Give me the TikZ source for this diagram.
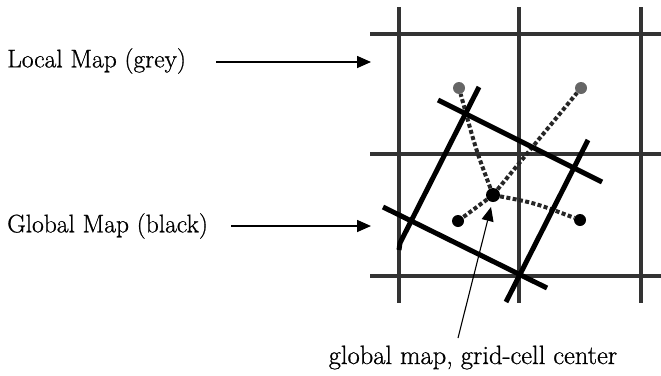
\documentclass[tikz,border=0pt]{standalone}
\usepackage{fontspec}
\newfontfamily\heavyrm{Latin Modern Roman}[FakeBold=0.8]
\usetikzlibrary{arrows.meta}
\begin{document}
\begin{tikzpicture}[x=1pt,y=-1pt,
  lbl/.style={font=\heavyrm\fontsize{25.5}{30}\selectfont, inner sep=0pt},
  gridln/.style={line width=3.2pt, draw=black!80},
  mapln/.style={line width=5pt, draw=black},
  dotln/.style={line width=4pt, draw=black!85, dash pattern=on 4pt off 2.4pt},
  gdot/.style={circle, fill=black!60, minimum size=12pt, inner sep=0pt},
  bdot/.style={circle, fill=black, minimum size=12pt, inner sep=0pt},
  ptr/.style={line width=1.6pt, -{Triangle[length=14pt,width=12pt]}}]
\useasboundingbox (0,0) rectangle (661,375);
% grid (local map)
\foreach \x/\n in {399/a,519/b,641/c}
  {\coordinate (v\n t) at (\x,7); \coordinate (v\n b) at (\x,303);
   \draw[gridln] (v\n t) -- (v\n b);}
\foreach \y/\n in {34/a,154/b,276/c}
  {\coordinate (h\n l) at (370,\y); \coordinate (h\n r) at (661,\y);
   \draw[gridln] (h\n l) -- (h\n r);}
% dots
\node[gdot] (g1) at (459,88) {};
\node[gdot] (g2) at (581,88) {};
\node[bdot] (b1) at (458,221) {};
\node[bdot] (b2) at (580,220) {};
\node[bdot, minimum size=14pt] (c) at (493,195) {};
% dotted connections
\draw[dotln] (c) .. controls (476,150) .. (g1);
\draw[dotln] (c) -- (g2);
\draw[dotln] (c) -- (b1);
\draw[dotln] (c) .. controls (535,203) .. (b2);
% global map (rotated square)
\coordinate (m1a) at (479,87); \coordinate (m1b) at (400,243);
\coordinate (m1c) at (399,250);
\coordinate (m2a) at (438,100); \coordinate (m2b) at (602,182);
\coordinate (m3a) at (588,140); \coordinate (m3b) at (506,302);
\coordinate (m4a) at (383,207); \coordinate (m4b) at (547,288);
\draw[mapln] (m1a) -- (m1b) -- (m1c);
\draw[mapln] (m2a) -- (m2b);
\draw[mapln] (m3a) -- (m3b);
\draw[mapln] (m4a) -- (m4b);
% labels
\node[lbl, anchor=west] (local) at (7,61) {Local Map (grey)};
\node[lbl, anchor=west] (global) at (7,226) {Global Map (black)};
\node[lbl, anchor=base, font=\heavyrm\fontsize{26.5}{30}\selectfont] (center) at (473,364) {global map, grid-cell center};
\coordinate (localtip) at (371,62);
\coordinate (globaltip) at (371,226);
\coordinate (localtail) at (216,62);
\coordinate (globaltail) at (231,226);
\coordinate (centertip) at (491,207);
\coordinate (centerfoot) at (458,338);
\draw[ptr] (localtail) -- (localtip);
\draw[ptr] (globaltail) -- (globaltip);
\draw[line width=1.1pt, -{Triangle[length=14pt,width=12pt]}] (centerfoot) -- (centertip);
\end{tikzpicture}
\end{document}
